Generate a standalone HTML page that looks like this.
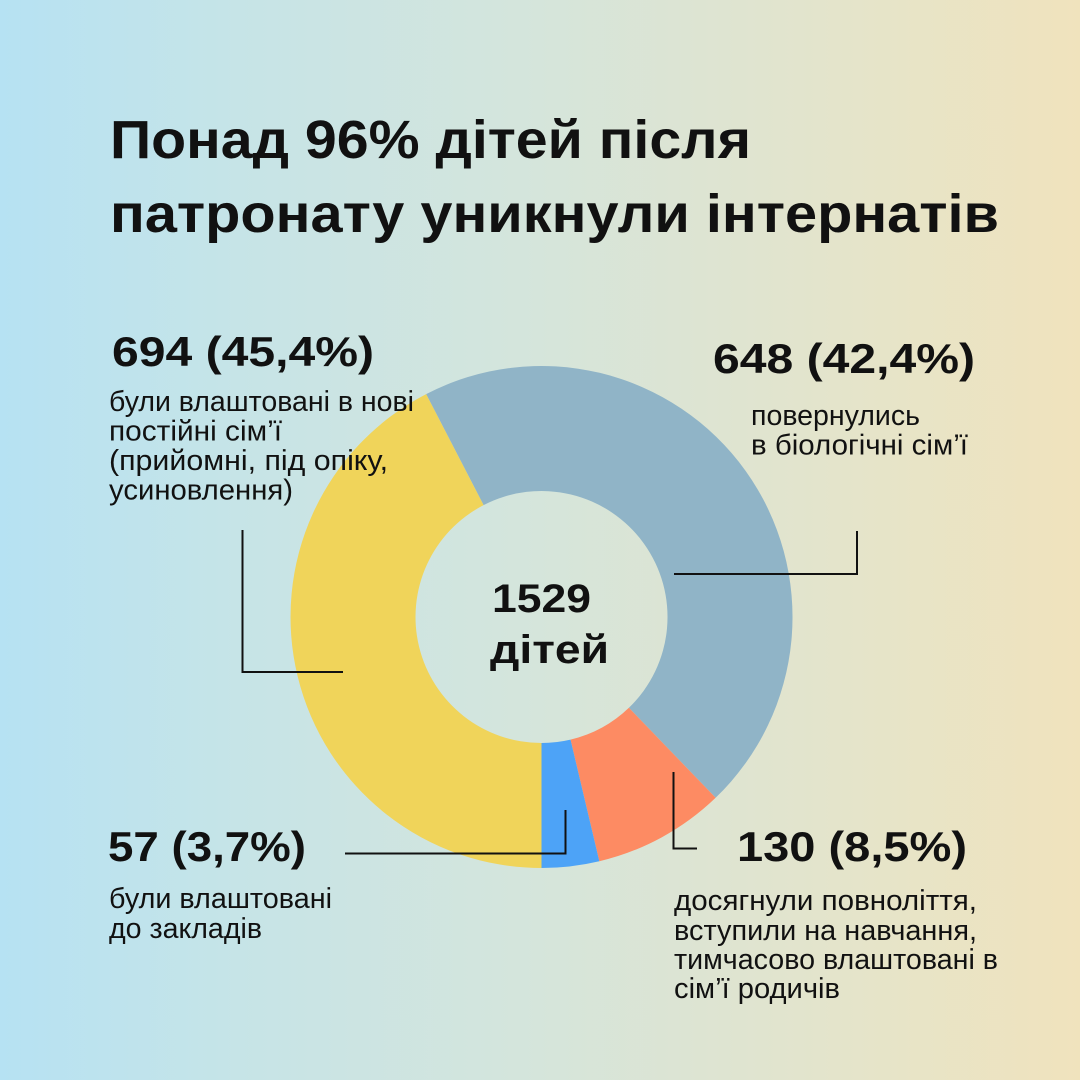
<!DOCTYPE html>
<html>
<head>
<meta charset="utf-8">
<style>
  html, body { margin: 0; padding: 0; }
  body { width: 1080px; height: 1080px; overflow: hidden;
    background: linear-gradient(to right, #B6E2F3 0%, #C6E4E7 22%, #D4E5DC 48%, #E2E4CD 74%, #F0E3BD 100%); }
  svg { display: block; }
  .t { font-family: "Liberation Sans", "Noto Sans CJK SC", sans-serif; fill: #111; }
  .b { font-weight: bold; }
</style>
</head>
<body>
<svg width="1080" height="1080" viewBox="0 0 1080 1080" xmlns="http://www.w3.org/2000/svg">
  <!-- Donut -->
  <path d="M 426.14 394.09 A 251 251 0 0 1 715.62 797.80 L 628.91 707.76 A 126 126 0 0 0 483.59 505.10 Z" fill="#90B4C7"/>
  <path d="M 715.62 797.80 A 251 251 0 0 1 599.33 861.25 L 570.53 739.61 A 126 126 0 0 0 628.91 707.76 Z" fill="#FD8B63"/>
  <path d="M 599.33 861.25 A 251 251 0 0 1 541.5 868 L 541.5 743 A 126 126 0 0 0 570.53 739.61 Z" fill="#4DA3F7"/>
  <path d="M 541.5 868 A 251 251 0 0 1 426.14 394.09 L 483.59 505.10 A 126 126 0 0 0 541.5 743 Z" fill="#F0D45A"/>

  <!-- Leader lines -->
  <g fill="none" stroke="#111" stroke-width="2">
    <polyline points="242.5,530 242.5,672 343,672"/>
    <polyline points="674,574 857,574 857,531"/>
    <polyline points="345,853.5 565.5,853.5 565.5,810"/>
    <polyline points="673.5,772 673.5,848.5 697,848.5"/>
  </g>

  <!-- Title -->
  <text class="t b" x="110" y="158" font-size="54" textLength="641" lengthAdjust="spacingAndGlyphs">Понад 96% дітей після</text>
  <text class="t b" x="110" y="232" font-size="54" textLength="889" lengthAdjust="spacingAndGlyphs">патронату уникнули інтернатів</text>

  <!-- Number labels -->
  <text class="t b" x="112" y="366" font-size="42" textLength="262" lengthAdjust="spacingAndGlyphs">694 (45,4%)</text>
  <text class="t b" x="713" y="373" font-size="42" textLength="262" lengthAdjust="spacingAndGlyphs">648 (42,4%)</text>
  <text class="t b" x="108" y="861" font-size="42" textLength="198" lengthAdjust="spacingAndGlyphs">57 (3,7%)</text>
  <text class="t b" x="737" y="861" font-size="42" textLength="230" lengthAdjust="spacingAndGlyphs">130 (8,5%)</text>

  <!-- Center -->
  <text class="t b" x="492" y="612" font-size="40" textLength="99" lengthAdjust="spacingAndGlyphs">1529</text>
  <text class="t b" x="490" y="663" font-size="40" textLength="119" lengthAdjust="spacingAndGlyphs">дітей</text>

  <!-- Body text: top-left -->
  <text class="t" x="109" y="411" font-size="29" textLength="305" lengthAdjust="spacingAndGlyphs">були влаштовані в нові</text>
  <text class="t" x="109" y="440.5" font-size="29" textLength="173" lengthAdjust="spacingAndGlyphs">постійні сім’ї</text>
  <text class="t" x="109" y="470" font-size="29" textLength="279" lengthAdjust="spacingAndGlyphs">(прийомні, під опіку,</text>
  <text class="t" x="109" y="499.5" font-size="29" textLength="184" lengthAdjust="spacingAndGlyphs">усиновлення)</text>

  <!-- Body text: top-right -->
  <text class="t" x="751" y="425" font-size="29" textLength="169" lengthAdjust="spacingAndGlyphs">повернулись</text>
  <text class="t" x="751" y="454.5" font-size="29" textLength="217" lengthAdjust="spacingAndGlyphs">в біологічні сім’ї</text>

  <!-- Body text: bottom-left -->
  <text class="t" x="109" y="908" font-size="29" textLength="223" lengthAdjust="spacingAndGlyphs">були влаштовані</text>
  <text class="t" x="109" y="938" font-size="29" textLength="153" lengthAdjust="spacingAndGlyphs">до закладів</text>

  <!-- Body text: bottom-right -->
  <text class="t" x="674" y="910" font-size="29" textLength="303" lengthAdjust="spacingAndGlyphs">досягнули повноліття,</text>
  <text class="t" x="674" y="940" font-size="29" textLength="303" lengthAdjust="spacingAndGlyphs">вступили на навчання,</text>
  <text class="t" x="674" y="969" font-size="29" textLength="324" lengthAdjust="spacingAndGlyphs">тимчасово влаштовані в</text>
  <text class="t" x="674" y="998" font-size="29" textLength="166" lengthAdjust="spacingAndGlyphs">сім’ї родичів</text>
</svg>
</body>
</html>
